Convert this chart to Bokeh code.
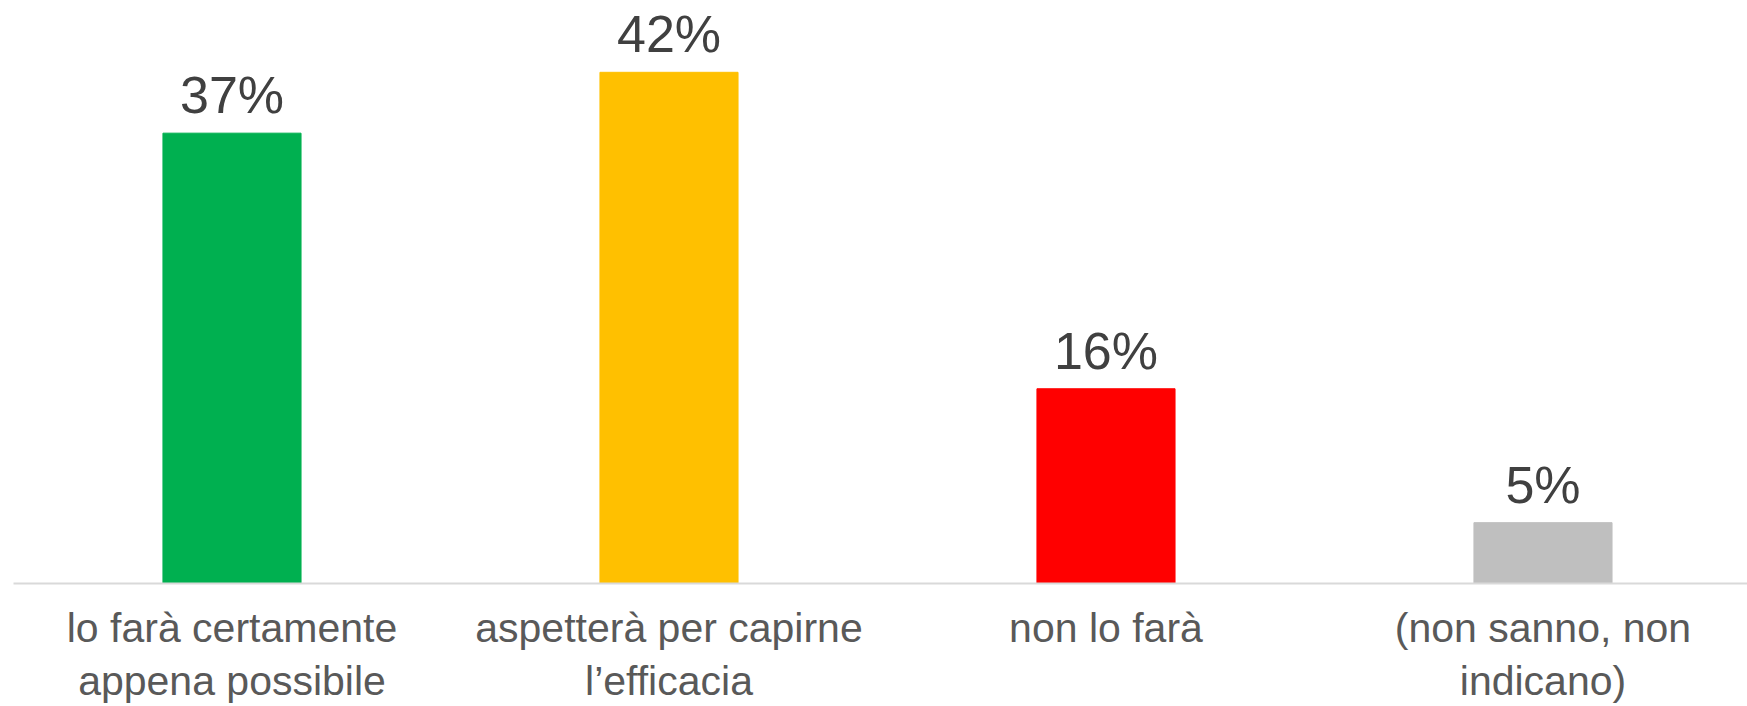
from bokeh.plotting import figure
from bokeh.models import Range1d, FixedTicker, ColumnDataSource
from bokeh.core.properties import value
from bokeh.embed import file_html
from bokeh.resources import INLINE

categories = ["lo farà certamente\nappena possibile",
              "aspetterà per capirne\nl\u2019efficacia",
              "non lo farà",
              "(non sanno, non\nindicano)"]
values = [37, 42, 16, 5]
labels = ["37%", "42%", "16%", "5%"]
colors = ["#00B050", "#FFC000", "#FF0000", "#BFBFBF"]

xs = list(range(len(categories)))
src = ColumnDataSource(dict(x=xs, top=values, label=labels, color=colors))

p = figure(width=1747, height=706, output_backend="svg", toolbar_location=None,
           x_range=Range1d(-0.5, 3.468), y_range=Range1d(0, 47.9),
           y_axis_location=None, min_border_left=13, min_border_right=0,
           min_border_top=0, min_border_bottom=122)
p.outline_line_color = None
p.xgrid.grid_line_color = None
p.ygrid.grid_line_color = None
p.background_fill_color = "white"
p.border_fill_color = "white"

p.vbar(x="x", top="top", bottom=0, width=0.316, color="color", source=src)
p.text(x="x", y="top", text="label", source=src, text_align="center",
       text_baseline="alphabetic", y_offset=-38, text_font=value("Liberation Sans"),
       text_font_size="52px", text_color="#404040")

ax = p.xaxis[0]
ax.ticker = FixedTicker(ticks=xs)
ax.major_label_overrides = {i: c for i, c in zip(xs, categories)}
ax.axis_line_color = "#D9D9D9"
ax.axis_line_width = 2
ax.major_tick_line_color = None
ax.minor_tick_line_color = None
ax.major_tick_out = 0
ax.major_tick_in = 0
ax.major_label_standoff = 21
ax.major_label_text_font = "Liberation Sans"
ax.major_label_text_font_size = "41px"
ax.major_label_text_color = "#595959"
ax.major_label_text_line_height = 1.16

open("out.html", "w").write(file_html(p, INLINE))
